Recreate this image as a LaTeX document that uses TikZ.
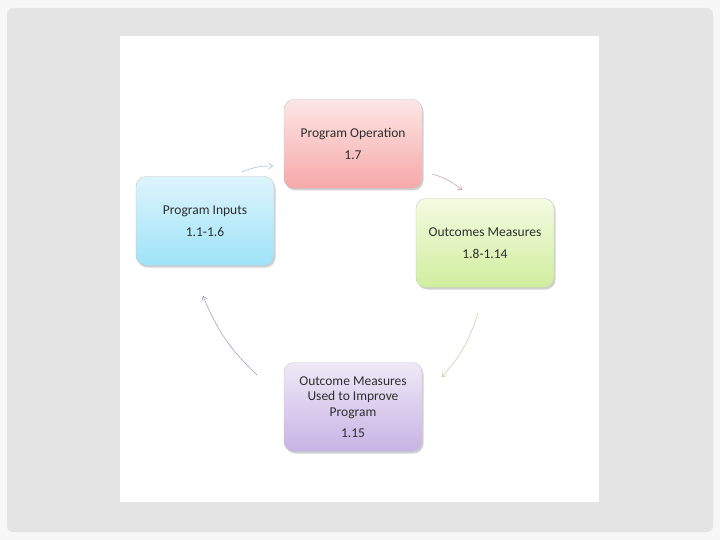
\documentclass[tikz,border=0pt]{standalone}
\usepackage{fontspec}
\setmainfont{Carlito}
\usepackage{tikz}
\usetikzlibrary{arrows.meta,shadows}
\definecolor{pagegray}{HTML}{F7F7F7}
\definecolor{panelgray}{HTML}{E4E4E4}
\definecolor{txtgray}{HTML}{2E2E2E}
\definecolor{optop}{HTML}{FDE6E6}
\definecolor{opbot}{HTML}{F6A8A8}
\definecolor{intop}{HTML}{DDF4FC}
\definecolor{inbot}{HTML}{9EE3F8}
\definecolor{outtop}{HTML}{F4FBE2}
\definecolor{outbot}{HTML}{D0EE9E}
\definecolor{usetop}{HTML}{EFE9F7}
\definecolor{usebot}{HTML}{C7B3E4}
\definecolor{inarrow}{HTML}{7FB6D8}
\definecolor{oparrow}{HTML}{C4868A}
\definecolor{outarrow}{HTML}{B3C98C}
\definecolor{usearrow}{HTML}{8C7EB8}

\begin{document}
\begin{tikzpicture}[x=1pt,y=-1pt,
  box/.style={rounded corners=10pt,draw=black!22,minimum width=138pt,minimum height=89pt,
    align=center,font=\fontsize{13.5}{15.5}\selectfont,text=txtgray,
    drop shadow={shadow xshift=1.5pt,shadow yshift=-2pt,fill=black!40,opacity=0.45}},
  cycle/.style={thin,-{Straight Barb[length=4pt,width=6pt]},bend left=12}]
  % background and slide
  \fill[pagegray] (0,0) rectangle (720,540);
  \fill[panelgray,rounded corners=6pt] (7,8) rectangle (713,532);
  \fill[white] (120,36) rectangle (599,502);
  % boxes
  \node[box,top color=optop,bottom color=opbot] (operation) at (353,144) {Program Operation\\[7pt]1.7};
  \node[box,top color=intop,bottom color=inbot] (inputs) at (205,221) {Program Inputs\\[7pt]1.1-1.6};
  \node[box,top color=outtop,bottom color=outbot] (outcomes) at (485,243) {Outcomes Measures\\[7pt]1.8-1.14};
  \node[box,top color=usetop,bottom color=usebot] (improve) at (353,407) {Outcome Measures\\Used to Improve\\Program\\[6pt]1.15};
  % arrow ends
  \coordinate (in a) at (242,172);
  \coordinate (in b) at (273,166);
  \coordinate (op a) at (432,174);
  \coordinate (op b) at (462,190);
  \coordinate (out a) at (478,313);
  \coordinate (out b) at (442,377);
  \coordinate (use a) at (257,375);
  \coordinate (use b) at (203,296);
  \draw[cycle,inarrow] (in a) to (in b);
  \draw[cycle,oparrow] (op a) to (op b);
  \draw[cycle,outarrow] (out a) to (out b);
  \draw[cycle,usearrow] (use a) to (use b);
\end{tikzpicture}
\end{document}
